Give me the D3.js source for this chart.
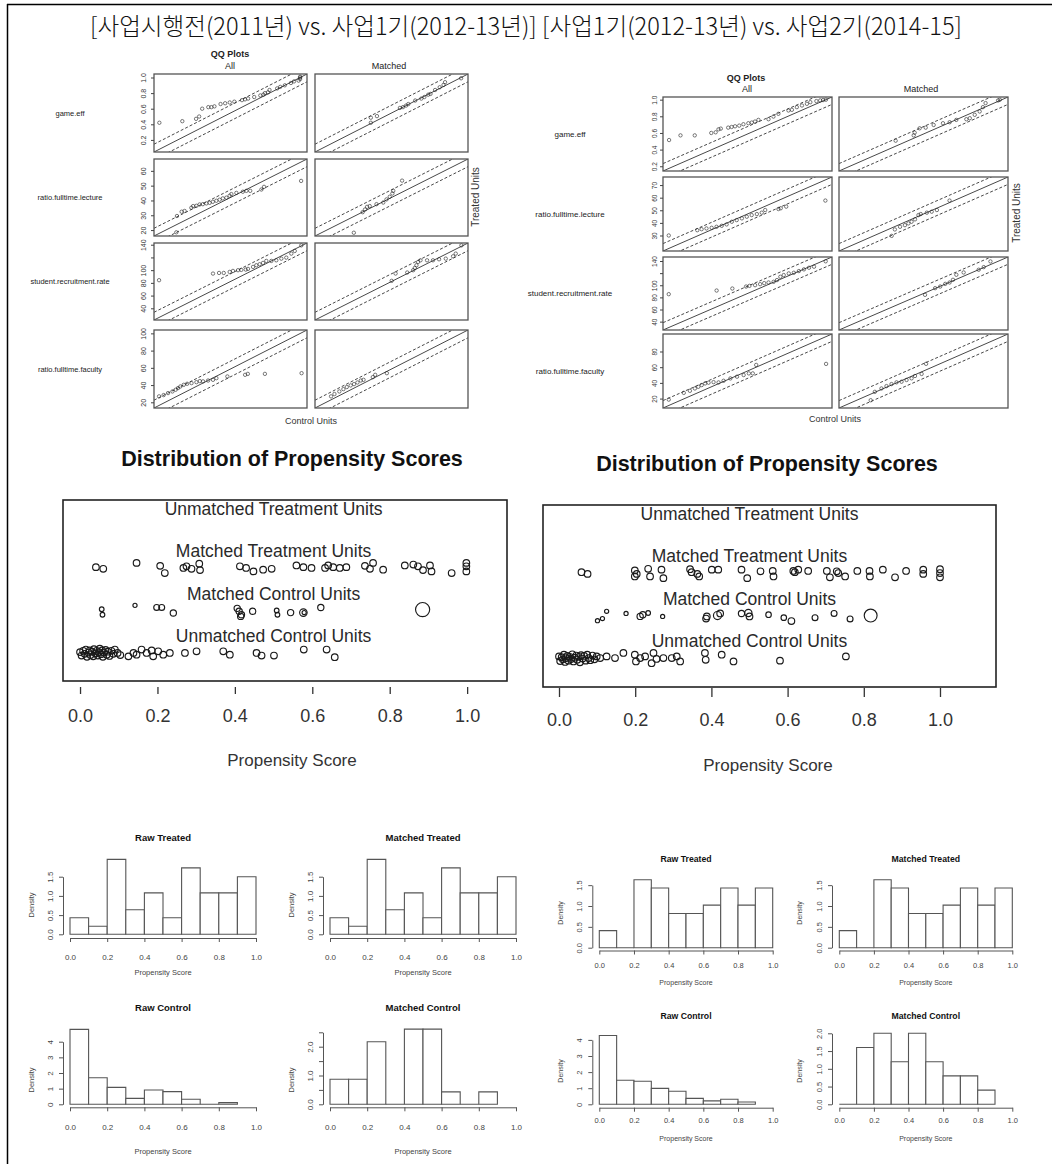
<!DOCTYPE html>
<html>
<head>
<meta charset="utf-8">
<script src="https://cdn.jsdelivr.net/npm/d3@7"></script>
<style>body{margin:0;background:#fff}</style>
</head>
<body>
<script>
// ---------------- data ----------------
var pageTitle = "[사업시행전(2011년) vs. 사업1기(2012-13년)] [사업1기(2012-13년) vs. 사업2기(2014-15]";

var qqVars = ["game.eff", "ratio.fulltime.lecture", "student.recruitment.rate", "ratio.fulltime.faculty"];
var qqDomL = [[0.045, 1.045], [16, 68], [21.6, 142.7], [13.4, 103.9]];
var qqDomR = [[0.143, 1.032], [17.7, 76.4], [26.2, 146.6], [8, 102.3]];
var qqTicksL = [[0.2, 0.4, 0.6, 0.8, 1.0], [20, 30, 40, 50, 60], [40, 60, 80, 100, 120, 140], [20, 40, 60, 80, 100]];
var qqTicksR = [[0.2, 0.4, 0.6, 0.8, 1.0], [30, 40, 50, 60, 70], [40, 60, 80, 100, 120, 140], [20, 40, 60, 80]];
var qqHiddenLabels = [120];

// left QQ (control quantile, treated quantile)
var qqL_game_all = [[0.08,0.42],[0.23,0.44],[0.32,0.47],[0.34,0.50],[0.36,0.60],[0.40,0.62],[0.42,0.62],[0.44,0.63],[0.48,0.66],[0.51,0.67],[0.54,0.68],[0.57,0.69],[0.62,0.71],[0.64,0.72],[0.66,0.73],[0.70,0.75],[0.74,0.77],[0.76,0.78],[0.77,0.80],[0.79,0.81],[0.80,0.84],[0.85,0.86],[0.87,0.88],[0.90,0.90],[0.94,0.93],[0.96,0.95],[0.99,0.96],[1.0,0.98],[1.0,1.0],[1.0,1.01]];
var qqL_game_m = [[0.41,0.42],[0.41,0.485],[0.45,0.505],[0.60,0.61],[0.62,0.62],[0.64,0.64],[0.655,0.66],[0.70,0.705],[0.74,0.73],[0.76,0.75],[0.785,0.78],[0.80,0.79],[0.83,0.84],[0.86,0.875],[0.885,0.905],[0.895,0.94],[1.0,0.99]];
var qqL_lect_all = [[23.6,18.5],[23.8,29.5],[25.4,32.4],[26.4,32.9],[28.7,35.1],[29.3,36.2],[30.4,36.4],[31.5,37.3],[32.6,37.5],[33.8,38],[34.9,38.4],[36,39.1],[37.2,39.8],[38.3,40.5],[39.4,41.4],[40.6,41.9],[41.7,43.2],[42.3,44.3],[44,45.1],[46.2,45.9],[47.4,46.5],[48.7,46.5],[52.5,47.4],[53.4,49.2],[66,53.2]];
var qqL_lect_m = [[29.2,18.2],[32.2,32.1],[33,33.9],[33.7,35.7],[34.6,36.2],[36.9,37.5],[39.2,38.6],[40.3,40.7],[41.4,42.5],[42.3,44.7],[42.6,46.5],[45.6,53.4]];
var qqL_recr_all = [[25.6,84.2],[68.3,94.6],[73.1,95.6],[76.8,95.6],[81.5,97.2],[84.1,98.8],[88.1,99.9],[90.7,100.4],[94.2,100.9],[96,102],[100,105.1],[102.6,107.7],[105.2,109.3],[107.9,111.4],[110.5,114.5],[114.5,114.5],[118.4,115.5],[122.4,118.1],[126.3,119.7],[130.3,126],[133,130.2],[138.2,139]];
var qqL_recr_m = [[82.3,83.2],[85.4,94.7],[94.6,96.3],[99.3,99.9],[100.6,103.5],[101.9,107.7],[103.2,112.9],[105.1,115.5],[110.3,115.5],[115,115.5],[119.8,117.1],[125.1,118.1],[130.9,121.8],[133,126],[137.5,139]];
var qqL_fac_all = [[16.4,26.9],[19.1,28.4],[21.7,30.7],[24.3,32.6],[26.2,34.6],[27.6,36.5],[29,38.4],[31,40.3],[33,41.5],[35.6,42.3],[38.5,43.4],[40.5,44.6],[42.4,44.3],[45.4,45.3],[48.3,46.1],[50.3,48],[56.8,50],[67.3,51.9],[68.9,53],[79,53],[100.7,53.8]];
var qqL_fac_m = [[22.9,26.9],[24.9,29.6],[27.8,32.6],[30.2,35.3],[32.2,37.7],[34.5,39.6],[36.5,41.1],[38.5,43],[40.5,45.3],[42.1,46.1],[47.6,49.2],[49,51.9],[55.9,53.8]];

// right QQ
var qqR_game_all = [[0.175,0.515],[0.235,0.571],[0.31,0.571],[0.397,0.6],[0.42,0.608],[0.435,0.644],[0.447,0.652],[0.486,0.664],[0.504,0.672],[0.522,0.68],[0.544,0.688],[0.566,0.705],[0.592,0.717],[0.61,0.725],[0.627,0.737],[0.645,0.757],[0.698,0.765],[0.724,0.797],[0.75,0.83],[0.803,0.87],[0.821,0.878],[0.847,0.91],[0.874,0.93],[0.9,0.95],[0.918,0.97],[0.95,0.983],[0.97,0.991],[0.985,0.995],[1.0,1.0]];
var qqR_game_m = [[0.441,0.507],[0.536,0.571],[0.541,0.604],[0.567,0.656],[0.599,0.664],[0.641,0.696],[0.69,0.717],[0.725,0.729],[0.76,0.757],[0.813,0.765],[0.831,0.777],[0.857,0.818],[0.883,0.858],[0.9,0.91],[0.914,0.959],[0.98,0.991],[0.989,0.999]];
var qqR_lect_all = [[19.7,30],[29.6,34.2],[31.1,35],[32.8,35.6],[34.6,36.1],[36.3,36.9],[38.1,37.7],[39.8,38.8],[41.6,40.9],[43.3,42.2],[45.1,43.6],[46.8,44.9],[48.5,46.2],[50.3,47],[52,48.1],[53.2,50.2],[57.8,51],[58.6,51.6],[60.5,52.9],[74.1,57.7]];
var qqR_lect_m = [[36,29.7],[37.1,34.8],[38.9,36.9],[40.6,38.2],[41.8,39.6],[42.9,40.9],[44.1,42.8],[45.3,46.2],[46.1,47],[48.2,48.1],[49.9,48.9],[51.7,50.2],[56.1,57.7]];
var qqR_recr_all = [[30.3,85.3],[64.4,91.3],[75.6,94.6],[85.4,97.9],[87.8,99],[91.8,100.1],[95.4,101.8],[98.3,103.5],[101.4,104.6],[105,105.7],[107.4,108.5],[109.8,114],[112.2,116.8],[115.8,119.5],[119.4,120.6],[123,123.4],[126.6,126.2],[130.2,128.9],[133.8,130.6],[142.1,139.5]];
var qqR_recr_m = [[87.5,84.2],[94.7,95.2],[98.3,97.9],[101.9,102.3],[105,104.6],[107.4,109],[109.8,117.3],[115,121.1],[125.7,125.6],[129.3,129.9],[134.1,139.3]];
var qqR_fac_all = [[11.2,18.7],[19.6,27.3],[23,29.9],[25.8,32.9],[27.7,35],[29.6,37.2],[31.5,39.3],[33.4,40.2],[36.2,41],[39,40.6],[41.8,42.7],[45.6,45.7],[49.3,47.9],[53,50],[55.9,52.1],[58.1,52.1],[60,62.9],[99,64.2]];
var qqR_fac_m = [[25.7,17.9],[28,28.6],[31.7,32.9],[34.5,35.9],[37.3,38.5],[40.1,40.7],[42.9,41.5],[45.7,43.7],[48.5,45.8],[50.4,48.8],[54.1,51.4],[56.6,64.3]];

// propensity jitter plots: [score, jitter (row units), weight]
var psLabels = ["Unmatched Control Units", "Matched Control Units", "Matched Treatment Units", "Unmatched Treatment Units"];
var psXTicks = [0, 0.2, 0.4, 0.6, 0.8, 1.0];

var psL_matchedTreat = [[0.041,0.02],[0.060,-0.02],[0.146,0.12],[0.207,0.05],[0.219,-0.12],[0.267,0],[0.275,0.04],[0.288,-0.02],[0.308,0.1],[0.31,-0.05],[0.413,0.04],[0.429,0],[0.448,-0.08],[0.473,-0.04],[0.495,-0.02],[0.559,0.06],[0.577,0.02],[0.598,0],[0.633,0],[0.641,0.06],[0.654,0.02],[0.671,0],[0.688,0.02],[0.736,0.05],[0.749,-0.02],[0.757,0.12],[0.783,-0.04],[0.839,0.06],[0.861,0.08],[0.873,0.04],[0.886,-0.05],[0.904,0.06],[0.908,-0.08],[0.96,-0.12],[0.998,0.12],[0.998,0.04],[0.998,-0.08]];
var psL_matchedCtrl = [[0.056,0.03,0.5],[0.058,-0.1,0.5],[0.142,0.12,0.4],[0.198,0.07,0.8],[0.211,0.07,0.8],[0.241,-0.06,0.9],[0.406,0.05,0.9],[0.411,-0.02,0.9],[0.417,-0.1,0.9],[0.415,-0.14,0.9],[0.446,-0.02,0.9],[0.508,0,0.5],[0.51,-0.1,0.5],[0.544,-0.05,0.9],[0.577,-0.05,1.3],[0.579,-0.05,0.4],[0.622,0.07,0.9],[0.885,0.02,4.6]];
var psL_unmatchedCtrl = [[0.0,0.02],[0.004,-0.06],[0.008,0.05],[0.012,-0.02],[0.015,0.08],[0.018,-0.09],[0.022,0.01],[0.025,0.06],[0.027,-0.05],[0.031,0.03],[0.034,-0.08],[0.036,0.09],[0.04,-0.01],[0.043,0.05],[0.046,-0.06],[0.049,0.02],[0.051,0.1],[0.054,-0.03],[0.057,0.06],[0.059,-0.09],[0.062,0.01],[0.066,0.07],[0.069,-0.04],[0.072,0.03],[0.076,-0.07],[0.081,0.05],[0.086,-0.02],[0.09,0.08],[0.097,0.0],[0.104,-0.05],[0.125,-0.08],[0.138,0],[0.146,-0.04],[0.159,0.08],[0.172,0],[0.185,0.06],[0.189,-0.08],[0.202,0.04],[0.215,-0.04],[0.232,0],[0.271,0],[0.301,0.04],[0.37,0.04],[0.387,-0.04],[0.456,0],[0.469,-0.06],[0.501,-0.06],[0.578,0.08],[0.637,0.08],[0.658,-0.1]];

var psR_matchedTreat = [[0.059,0.02],[0.075,-0.02],[0.199,0.06],[0.199,-0.08],[0.204,-0.02],[0.234,0.1],[0.239,-0.08],[0.269,0.08],[0.274,-0.12],[0.344,0.09],[0.348,0.02],[0.363,-0.02],[0.368,-0.08],[0.401,0.08],[0.418,0.08],[0.479,0.08],[0.494,-0.12],[0.529,0.04],[0.561,0.05],[0.563,-0.08],[0.615,0.05],[0.619,0.02],[0.628,0.08],[0.654,0.05],[0.703,0.05],[0.711,-0.1],[0.729,0.04],[0.733,0],[0.751,-0.08],[0.783,0.05],[0.815,0.05],[0.816,-0.08],[0.85,0.08],[0.882,-0.1],[0.911,0.05],[0.956,0.08],[0.956,-0.02],[1.0,0.09],[1.0,0],[1.0,-0.1]];
var psR_matchedCtrl = [[0.101,-0.12,0.4],[0.114,-0.07,0.4],[0.125,0.1,0.4],[0.176,0.05,0.4],[0.213,-0.02,0.9],[0.22,0.02,0.9],[0.234,0.06,0.5],[0.272,-0.02,0.4],[0.386,-0.07,1],[0.388,-0.02,1],[0.416,0,1.5],[0.423,0.05,1],[0.479,0.05,0.9],[0.497,0.06,1.2],[0.5,-0.02,1],[0.55,0.02,0.7],[0.59,-0.05,0.7],[0.61,-0.13,1],[0.672,-0.05,0.8],[0.722,0.05,0.8],[0.764,-0.08,0.8],[0.818,0,3.8]];
var psR_unmatchedCtrl = [[0.0,0.04],[0.003,-0.07],[0.007,0.02],[0.01,-0.03],[0.013,0.08],[0.016,-0.09],[0.019,0.0],[0.022,0.05],[0.025,-0.06],[0.028,0.03],[0.032,-0.02],[0.035,0.09],[0.038,-0.08],[0.041,0.01],[0.045,0.06],[0.048,-0.04],[0.052,0.03],[0.055,-0.1],[0.058,0.07],[0.062,-0.01],[0.066,0.05],[0.07,-0.06],[0.074,0.08],[0.078,0.0],[0.082,-0.05],[0.088,0.06],[0.093,-0.03],[0.099,0.04],[0.108,0.0],[0.125,0.04],[0.147,0.0],[0.169,0.12],[0.199,0.08],[0.202,-0.08],[0.213,0.0],[0.226,0.04],[0.243,-0.12],[0.248,0.12],[0.256,-0.02],[0.274,0],[0.296,0],[0.309,0.04],[0.318,-0.08],[0.383,0.12],[0.385,-0.04],[0.427,0.08],[0.458,-0.08],[0.58,-0.06],[0.753,0.04]];

// histograms: density per 0.1-wide bin starting at 0
var histXTicks = [0, 0.2, 0.4, 0.6, 0.8, 1.0];
var histL_rawTreat = [0.43, 0.21, 1.95, 0.64, 1.08, 0.43, 1.73, 1.08, 1.08, 1.5];
var histL_matchTreat = [0.43, 0.21, 1.95, 0.64, 1.08, 0.43, 1.73, 1.08, 1.08, 1.5];
var histL_rawCtrl = [4.79, 1.70, 1.08, 0.38, 0.91, 0.81, 0.32, 0, 0.11];
var histL_matchCtrl = [0.87, 0.87, 2.17, 0, 2.61, 2.61, 0.43, 0, 0.43];
var histR_rawTreat = [0.41, 0, 1.63, 1.43, 0.82, 0.82, 1.02, 1.43, 1.02, 1.43];
var histR_matchTreat = [0.41, 0, 1.63, 1.43, 0.82, 0.82, 1.02, 1.43, 1.02, 1.43];
var histR_rawCtrl = [4.27, 1.49, 1.43, 0.99, 0.81, 0.37, 0.21, 0.31, 0.14];
var histR_matchCtrl = [0, 1.6, 2.0, 1.2, 2.0, 1.2, 0.8, 0.8, 0.4];

// ---------------- drawing ----------------
var width = 1052, height = 1164;
var FONT = "'Liberation Sans', Arial, Helvetica, sans-serif";
var INK = "#222";

var svg = d3.select("body").append("svg")
    .attr("width", width)
    .attr("height", height);

svg.append("rect").attr("width", width).attr("height", height).attr("fill", "#fff");

// frame lines (left and top)
svg.append("line").attr("x1", 7).attr("y1", 4.5).attr("x2", width).attr("y2", 4.5)
    .attr("stroke", "#000").attr("stroke-width", 1.5);
svg.append("line").attr("x1", 7.5).attr("y1", 4).attr("x2", 7.5).attr("y2", height)
    .attr("stroke", "#000").attr("stroke-width", 1.5);

svg.append("text")
    .attr("x", 526).attr("y", 35)
    .attr("text-anchor", "middle")
    .attr("font-family", "'Noto Sans CJK KR', sans-serif")
    .attr("font-size", 24)
    .attr("font-weight", 300)
    .attr("textLength", 872)
    .attr("lengthAdjust", "spacingAndGlyphs")
    .attr("fill", "#111")
    .text(pageTitle);

function label(x, y, s, size, opt) {
    opt = opt || {};
    var t = svg.append("text")
        .attr("x", x).attr("y", y)
        .attr("dy", "0.35em")
        .attr("text-anchor", "middle")
        .attr("font-family", FONT)
        .attr("font-size", size)
        .attr("fill", opt.fill || INK)
        .text(s);
    if (opt.bold) t.attr("font-weight", "bold");
    if (opt.rot) t.attr("transform", "rotate(-90," + x + "," + y + ")");
    return t;
}

// ---- QQ plots ----
function drawQQ(cfg) {
    label(cfg.titleX, cfg.titleY, "QQ Plots", 9, {bold: true});
    label(cfg.colMid[0], cfg.headY, "All", 9);
    label(cfg.colMid[1], cfg.headY, "Matched", 9);

    cfg.rows.forEach(function(row, r) {
        var dom = cfg.domains[r];
        var span = dom[1] - dom[0];
        label(cfg.varX, (row[0] + row[1]) / 2, qqVars[r], cfg.varSize);

        cfg.cols.forEach(function(col, c) {
            var x = d3.scaleLinear().domain(dom).range(col);
            var y = d3.scaleLinear().domain(dom).range([row[1], row[0]]);
            var id = cfg.id + r + "_" + c;

            svg.append("clipPath").attr("id", id).append("rect")
                .attr("x", col[0]).attr("y", row[0])
                .attr("width", col[1] - col[0]).attr("height", row[1] - row[0]);

            var p = svg.append("g").attr("clip-path", "url(#" + id + ")");
            [[0, null], [0.1 * span, "3,2"], [-0.1 * span, "3,2"]].forEach(function(l) {
                p.append("line")
                    .attr("x1", x(dom[0])).attr("y1", y(dom[0] + l[0]))
                    .attr("x2", x(dom[1])).attr("y2", y(dom[1] + l[0]))
                    .attr("stroke", "#333").attr("stroke-width", 0.9)
                    .attr("stroke-dasharray", l[1]);
            });

            p.selectAll("circle").data(cfg.data[c][r]).enter().append("circle")
                .attr("cx", function(d) { return x(d[0]); })
                .attr("cy", function(d) { return y(d[1]); })
                .attr("r", 1.7)
                .attr("fill", "none")
                .attr("stroke", "#222")
                .attr("stroke-width", 0.6);

            svg.append("rect")
                .attr("x", col[0]).attr("y", row[0])
                .attr("width", col[1] - col[0]).attr("height", row[1] - row[0])
                .attr("fill", "none").attr("stroke", "#555").attr("stroke-width", 1.3);

            if (c === 0) {
                var fmt = span < 2 ? d3.format(".1f") : d3.format("d");
                var ax = svg.append("g")
                    .attr("transform", "translate(" + col[0] + ",0)")
                    .call(d3.axisLeft(y).tickValues(cfg.ticks[r]).tickSize(3)
                        .tickFormat(function(d) { return qqHiddenLabels.indexOf(d) >= 0 ? "" : fmt(d); }))
                    .attr("font-family", FONT)
                    .attr("font-size", cfg.tickSize)
                    .style("color", "#444");
                ax.select(".domain").remove();
                ax.selectAll("text")
                    .attr("transform", "rotate(-90)")
                    .attr("x", 0).attr("y", -cfg.tickOff)
                    .attr("dy", "0.35em")
                    .attr("text-anchor", "middle")
                    .attr("fill", "#333");
            }
        });
    });

    label(cfg.treatX, cfg.treatY, "Treated Units", 10, {rot: true, fill: "#333"});
    label(cfg.ctrlX, cfg.ctrlY, "Control Units", 9, {fill: "#333"});
}

drawQQ({
    id: "qL",
    cols: [[154, 307], [315, 468]],
    rows: [[74, 152], [159, 236], [243, 320], [330, 408]],
    domains: qqDomL, ticks: qqTicksL,
    data: [[qqL_game_all, qqL_lect_all, qqL_recr_all, qqL_fac_all],
           [qqL_game_m, qqL_lect_m, qqL_recr_m, qqL_fac_m]],
    titleX: 230, titleY: 54, headY: 66, colMid: [230, 389],
    varX: 70, varSize: 7.5, tickSize: 7, tickOff: 10,
    treatX: 475, treatY: 197, ctrlX: 311, ctrlY: 421
});

drawQQ({
    id: "qR",
    cols: [[663, 832], [839, 1008]],
    rows: [[97, 171], [177, 251], [257, 330], [334, 408]],
    domains: qqDomR, ticks: qqTicksR,
    data: [[qqR_game_all, qqR_lect_all, qqR_recr_all, qqR_fac_all],
           [qqR_game_m, qqR_lect_m, qqR_recr_m, qqR_fac_m]],
    titleX: 746, titleY: 78, headY: 89, colMid: [747, 921],
    varX: 570, varSize: 8, tickSize: 6.5, tickOff: 8,
    treatX: 1016, treatY: 213, ctrlX: 835, ctrlY: 419
});

// ---- propensity score jitter plots ----
function drawPS(cfg) {
    var x = d3.scaleLinear().domain(cfg.xDom).range([cfg.box[0], cfg.box[1]]);
    var y = d3.scaleLinear().domain(cfg.yDom).range([cfg.box[3], cfg.box[2]]);
    var r = d3.scaleSqrt().domain([0, 1]).range([0, 3.3]);

    label(cfg.titleX, cfg.titleY, "Distribution of Propensity Scores", 21.5, {bold: true, fill: "#111"});

    svg.append("rect")
        .attr("x", cfg.box[0]).attr("y", cfg.box[2])
        .attr("width", cfg.box[1] - cfg.box[0]).attr("height", cfg.box[3] - cfg.box[2])
        .attr("fill", "none").attr("stroke", "#222").attr("stroke-width", 1.6);

    psLabels.forEach(function(s, i) {
        label(x(0.5), y(i + 1.4), s, 17.5, {fill: "#2a2a2a"});
    });

    cfg.rowsData.forEach(function(pts, i) {
        svg.append("g").selectAll("circle").data(pts).enter().append("circle")
            .attr("cx", function(d) { return x(d[0]); })
            .attr("cy", function(d) { return y(i + 1 + d[1]); })
            .attr("r", function(d) { return r(d.length > 2 ? d[2] : 1); })
            .attr("fill", "none")
            .attr("stroke", "#1a1a1a")
            .attr("stroke-width", 1.15);
    });

    var ax = svg.append("g")
        .attr("transform", "translate(0," + cfg.axisY + ")")
        .call(d3.axisBottom(x).tickValues(psXTicks).tickSize(cfg.tick).tickFormat(d3.format(".1f")))
        .attr("font-family", FONT)
        .attr("font-size", 18)
        .style("color", "#333");
    ax.select(".domain").remove();
    ax.selectAll("line").attr("stroke-width", 1.3);
    ax.selectAll("text").attr("y", cfg.tickLabelY - cfg.axisY).attr("dy", "0.35em").attr("fill", "#333");

    label(cfg.xlabX, cfg.xlabY, "Propensity Score", 17, {fill: "#333"});
}

drawPS({
    box: [63, 507, 500, 681],
    xDom: [-0.044, 1.103], yDom: [0.34, 4.6],
    rowsData: [psL_unmatchedCtrl, psL_matchedCtrl, psL_matchedTreat],
    titleX: 292, titleY: 458,
    axisY: 687, tick: 7, tickLabelY: 716,
    xlabX: 292, xlabY: 760
});

drawPS({
    box: [543, 996, 505, 687],
    xDom: [-0.042, 1.147], yDom: [0.32, 4.6],
    rowsData: [psR_unmatchedCtrl, psR_matchedCtrl, psR_matchedTreat],
    titleX: 767, titleY: 463,
    axisY: 688, tick: 9, tickLabelY: 720,
    xlabX: 768, xlabY: 765
});

// ---- histograms ----
function drawHist(cfg) {
    var x = d3.scaleLinear().domain([0, 1]).range([cfg.x0, cfg.x1]);
    var top = d3.max(cfg.yTicks);
    var y = d3.scaleLinear().domain([0, top]).range([cfg.y0, cfg.y0 - top * cfg.ppu]);

    svg.append("g").selectAll("path").data(cfg.vals).enter().append("path")
        .attr("d", function(d, i) {
            return "M" + x(i / 10) + "," + y(0) + "V" + y(d) + "H" + x((i + 1) / 10) + "V" + y(0) + "Z";
        })
        .attr("fill", "#fff")
        .attr("stroke", "#555")
        .attr("stroke-width", 1.1);

    var xa = svg.append("g")
        .attr("transform", "translate(0," + cfg.axisY + ")")
        .call(d3.axisBottom(x).tickValues(histXTicks).tickSize(4).tickSizeOuter(0).tickFormat(d3.format(".1f")))
        .attr("font-family", FONT)
        .attr("font-size", cfg.fs)
        .style("color", "#555");
    xa.selectAll("text").attr("y", cfg.tickLabelY - cfg.axisY).attr("dy", "0.35em").attr("fill", "#444");

    var ya = svg.append("g")
        .attr("transform", "translate(" + cfg.axX + ",0)")
        .call(d3.axisLeft(y).tickValues(cfg.yTicks).tickSize(4).tickSizeOuter(0)
            .tickFormat(function(d, i) { return cfg.yLabels[i]; }))
        .attr("font-family", FONT)
        .attr("font-size", cfg.fs)
        .style("color", "#555");
    ya.selectAll("text")
        .attr("transform", "rotate(-90)")
        .attr("x", 0).attr("y", -13)
        .attr("dy", "0.35em")
        .attr("text-anchor", "middle")
        .attr("fill", "#444");

    label((cfg.x0 + cfg.x1) / 2, cfg.titleY, cfg.title, cfg.titleFs, {bold: true, fill: "#111"});
    label((cfg.x0 + cfg.x1) / 2, cfg.xlabY, "Propensity Score", cfg.labFs, {fill: "#444"});
    label(cfg.axX - 32, cfg.densY, "Density", cfg.labFs, {rot: true, fill: "#444"});
}

var tTicks = [0, 0.5, 1, 1.5], tLabels = ["0.0", "0.5", "1.0", "1.5"];
var cTicks = [0, 1, 2, 3, 4], cLabels = ["0", "1", "2", "3", "4"];

// left block
drawHist({title: "Raw Treated", vals: histL_rawTreat, x0: 70, x1: 256, axX: 63, y0: 934.3, ppu: 38.4,
    yTicks: tTicks, yLabels: tLabels, axisY: 938, tickLabelY: 957, xlabY: 972, titleY: 838, densY: 905,
    fs: 8, labFs: 7.5, titleFs: 9.5});
drawHist({title: "Matched Treated", vals: histL_matchTreat, x0: 330, x1: 516, axX: 323, y0: 934.3, ppu: 38.4,
    yTicks: tTicks, yLabels: tLabels, axisY: 938, tickLabelY: 957, xlabY: 972, titleY: 838, densY: 905,
    fs: 8, labFs: 7.5, titleFs: 9.5});
drawHist({title: "Raw Control", vals: histL_rawCtrl, x0: 70, x1: 256, axX: 63, y0: 1104.3, ppu: 15.65,
    yTicks: cTicks, yLabels: cLabels, axisY: 1107.3, tickLabelY: 1127, xlabY: 1151.5, titleY: 1008, densY: 1080,
    fs: 8, labFs: 7.5, titleFs: 9.5});
drawHist({title: "Matched Control", vals: histL_matchCtrl, x0: 330, x1: 516, axX: 323, y0: 1104.3, ppu: 28.8,
    yTicks: [0, 0.5, 1, 1.5, 2, 2.5], yLabels: ["0.0", "", "1.0", "", "2.0", ""], axisY: 1107.3, tickLabelY: 1127,
    xlabY: 1151.5, titleY: 1008, densY: 1080, fs: 8, labFs: 7.5, titleFs: 9.5});

// right block
drawHist({title: "Raw Treated", vals: histR_rawTreat, x0: 599.3, x1: 772.7, axX: 592.3, y0: 947.7, ppu: 41.7,
    yTicks: tTicks, yLabels: tLabels, axisY: 950.5, tickLabelY: 965, xlabY: 983, titleY: 859, densY: 913,
    fs: 7.5, labFs: 7, titleFs: 8.7});
drawHist({title: "Matched Treated", vals: histR_matchTreat, x0: 839.3, x1: 1012.3, axX: 832, y0: 947.7, ppu: 41.7,
    yTicks: tTicks, yLabels: tLabels, axisY: 950.5, tickLabelY: 965, xlabY: 983, titleY: 859, densY: 913,
    fs: 7.5, labFs: 7, titleFs: 8.7});
drawHist({title: "Raw Control", vals: histR_rawCtrl, x0: 599.3, x1: 772.7, axX: 592.3, y0: 1104.3, ppu: 16.1,
    yTicks: cTicks, yLabels: cLabels, axisY: 1107.7, tickLabelY: 1120.7, xlabY: 1139, titleY: 1016, densY: 1071,
    fs: 7.5, labFs: 7, titleFs: 8.7});
drawHist({title: "Matched Control", vals: histR_matchCtrl, x0: 839.3, x1: 1012.3, axX: 832, y0: 1104.3, ppu: 35.5,
    yTicks: [0, 0.5, 1, 1.5, 2], yLabels: ["0.0", "0.5", "1.0", "1.5", "2.0"], axisY: 1107.7, tickLabelY: 1120.7,
    xlabY: 1139, titleY: 1016, densY: 1071, fs: 7.5, labFs: 7, titleFs: 8.7});
</script>
</body>
</html>
